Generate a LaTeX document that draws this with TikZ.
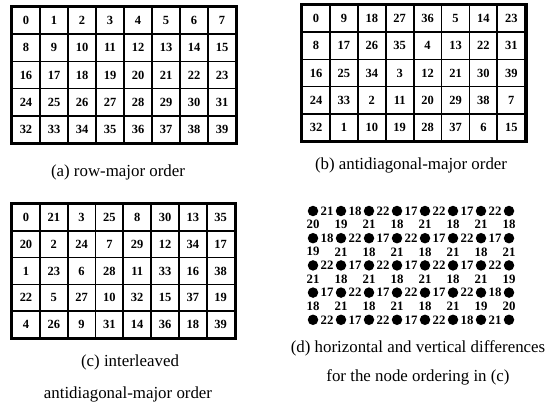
\documentclass[tikz,border=0pt]{standalone}
\usepackage{fontspec}
\setmainfont{Liberation Serif}
\usetikzlibrary{positioning}

\newcommand{\cellfont}{\fontsize{7.1}{8}\selectfont\bfseries}
\newcommand{\difffont}{\fontsize{7.3}{8}\selectfont\bfseries}
\newcommand{\capfont}{\fontsize{9.6}{11}\selectfont}

\tikzset{
  cell/.style={draw=black,line width=1pt,minimum width=.56cm,minimum height=.544cm,inner sep=0pt,font=\cellfont},
  frame/.style={draw=black,line width=1.5pt},
  dot/.style={circle,fill=black,minimum size=.21cm,inner sep=0pt},
  diff/.style={inner sep=0pt,font=\difffont},
  caption/.style={inner sep=0pt,font=\capfont,align=center}
}

\begin{document}
\begin{tikzpicture}[x=.02cm,y=-.02cm]
\useasboundingbox (0,0) rectangle (553,408);

% (a) row-major order
\foreach \vals [count=\r from 0] in {{0,1,2,3,4,5,6,7},{8,9,10,11,12,13,14,15},{16,17,18,19,20,21,22,23},{24,25,26,27,28,29,30,31},{32,33,34,35,36,37,38,39}}
  \foreach \v [count=\c from 0] in \vals
    \node[cell] (a-\r-\c) at ({26+28*\c},{20.6+27.2*\r}) {\v};
\draw[frame] (a-0-0.north west) rectangle (a-4-7.south east);
\node[caption] (capa) at (118,172) {(a) row-major order};

% (b) antidiagonal-major order
\foreach \vals [count=\r from 0] in {{0,9,18,27,36,5,14,23},{8,17,26,35,4,13,22,31},{16,25,34,3,12,21,30,39},{24,33,2,11,20,29,38,7},{32,1,10,19,28,37,6,15}}
  \foreach \v [count=\c from 0] in \vals
    \node[cell] (b-\r-\c) at ({316+27.9*\c},{18.6+27.2*\r}) {\v};
\draw[frame] (b-0-0.north west) rectangle (b-4-7.south east);
\node[caption] (capb) at (411,165) {(b) antidiagonal-major order};

% (c) interleaved antidiagonal-major order
\foreach \vals [count=\r from 0] in {{0,21,3,25,8,30,13,35},{20,2,24,7,29,12,34,17},{1,23,6,28,11,33,16,38},{22,5,27,10,32,15,37,19},{4,26,9,31,14,36,18,39}}
  \foreach \v [count=\c from 0] in \vals
    \node[cell,minimum height=.536cm] (c-\r-\c) at ({26+27.8*\c},{217.4+26.8*\r}) {\v};
\draw[frame] (c-0-0.north west) rectangle (c-4-7.south east);
\node[caption] (capc1) at (130,362) {(c) interleaved};
\node[caption] (capc2) at (128,394) {antidiagonal-major order};

% (d) differences for (c)
\foreach \r in {0,...,4}
  \foreach \c in {0,...,7}
    \node[dot] (d-\r-\c) at ({313+28*\c},{211+27.2*\r}) {};
\foreach \vals [count=\r from 0] in {{21,18,22,17,22,17,22},{18,22,17,22,17,22,17},{22,17,22,17,22,17,22},{17,22,17,22,17,22,18},{22,17,22,17,22,18,21}}
  \foreach \v [count=\c from 0] in \vals
    \node[diff] (h-\r-\c) at ({327+28*\c},{211+27.2*\r}) {\v};
\foreach \vals [count=\r from 0] in {{20,19,21,18,21,18,21,18},{19,21,18,21,18,21,18,21},{21,18,21,18,21,18,21,19},{18,21,18,21,18,21,19,20}}
  \foreach \v [count=\c from 0] in \vals
    \node[diff] (v-\r-\c) at ({313+28*\c},{224.6+27.2*\r}) {\v};
\node[caption] (capd1) at (418,348) {(d) horizontal and vertical differences};
\node[caption] (capd2) at (418,377) {for the node ordering in (c)};
\end{tikzpicture}
\end{document}
